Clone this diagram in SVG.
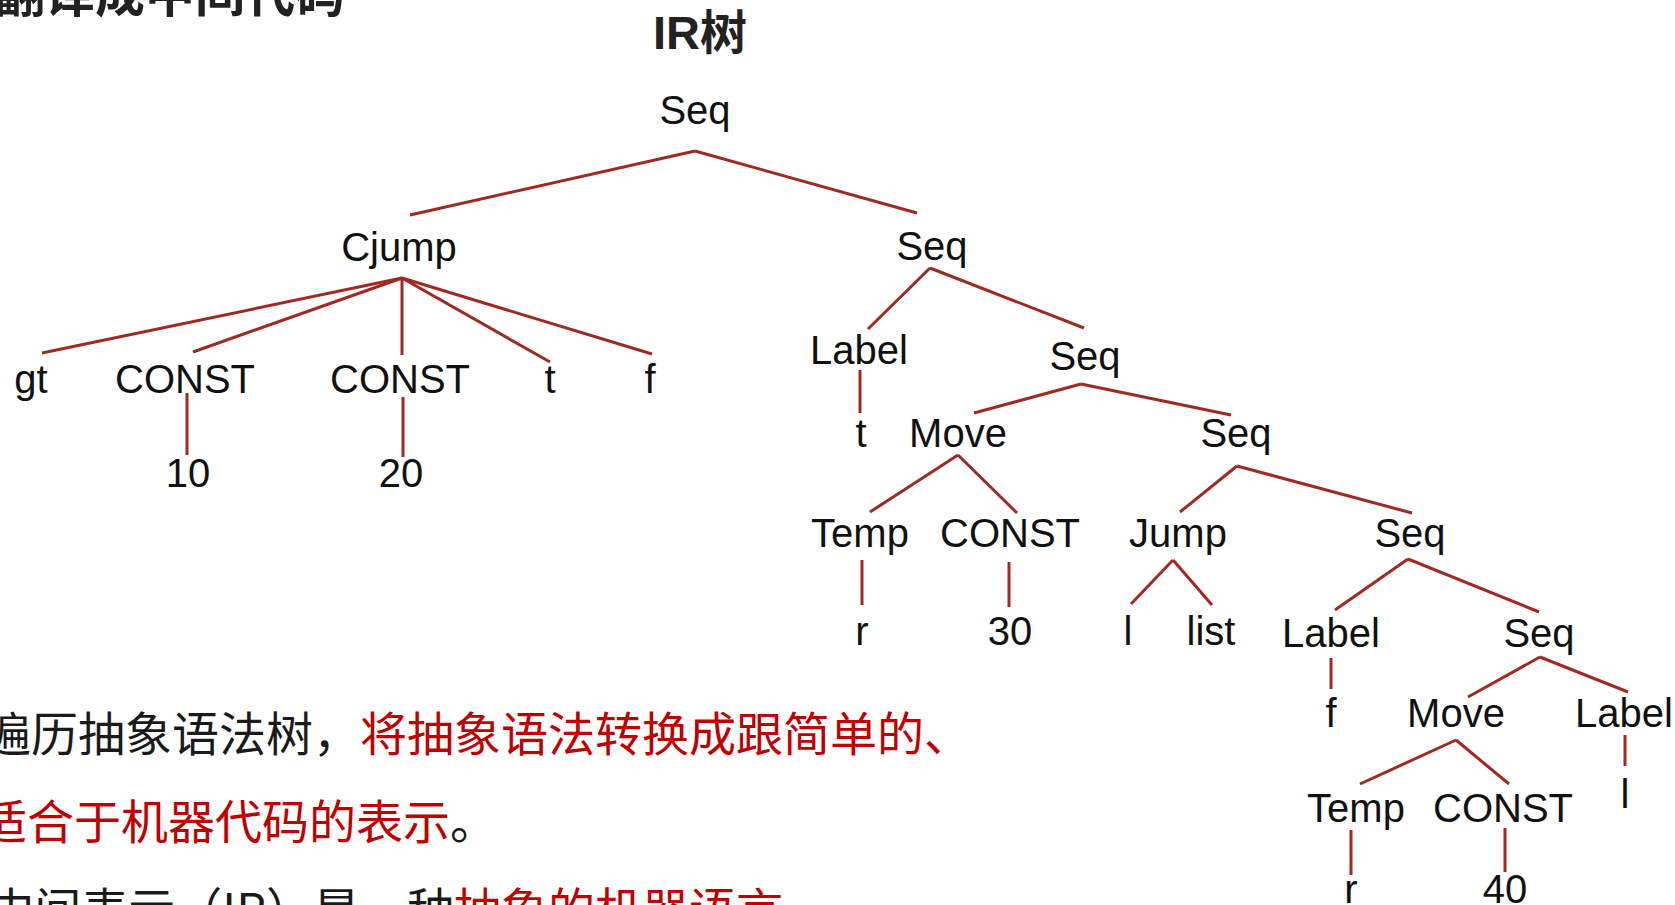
<svg xmlns="http://www.w3.org/2000/svg" width="1675" height="905" viewBox="0 0 1675 905">
<style>
.n{font-family:"Liberation Sans",Arial,sans-serif;font-size:40px;fill:#111;text-anchor:middle}
.e line{stroke:#9e2a22;stroke-width:3;stroke-linecap:butt}
.cj{font-family:"Noto Sans CJK SC",sans-serif;font-size:47px}
.blk{fill:#1a1a1a}
.red{fill:#c00000}
</style>
<rect width="1675" height="905" fill="#fff"/>
<text x="345" y="12" font-family="Noto Sans CJK SC, sans-serif" font-size="50" font-weight="bold" fill="#222" text-anchor="end">翻译成中间代码</text>
<text x="700" y="49" font-family="Liberation Sans, Noto Sans CJK SC, sans-serif" font-size="47" font-weight="bold" fill="#222" text-anchor="middle">IR树</text>
<g id="connectors" class="e">
<line x1="695" y1="151" x2="410" y2="215"/>
<line x1="695" y1="151" x2="917" y2="213"/>
<line x1="402" y1="278" x2="42" y2="353"/>
<line x1="402" y1="278" x2="193" y2="352"/>
<line x1="402" y1="278" x2="402" y2="355"/>
<line x1="402" y1="278" x2="550" y2="362"/>
<line x1="402" y1="278" x2="652" y2="354"/>
<line x1="187" y1="393" x2="187" y2="455"/>
<line x1="403" y1="397" x2="403" y2="457"/>
<line x1="930" y1="268" x2="868" y2="329"/>
<line x1="930" y1="268" x2="1084" y2="328"/>
<line x1="860" y1="370" x2="860" y2="413"/>
<line x1="1081" y1="384" x2="974" y2="413"/>
<line x1="1081" y1="384" x2="1231" y2="415"/>
<line x1="958" y1="455" x2="870" y2="512"/>
<line x1="958" y1="455" x2="1017" y2="513"/>
<line x1="1237" y1="466" x2="1180" y2="512"/>
<line x1="1237" y1="466" x2="1412" y2="513"/>
<line x1="862" y1="560" x2="862" y2="605"/>
<line x1="1009" y1="562" x2="1009" y2="607"/>
<line x1="1173" y1="560" x2="1131" y2="604"/>
<line x1="1173" y1="560" x2="1212" y2="605"/>
<line x1="1408" y1="559" x2="1335" y2="610"/>
<line x1="1408" y1="559" x2="1539" y2="612"/>
<line x1="1331" y1="658" x2="1331" y2="689"/>
<line x1="1540" y1="657" x2="1468" y2="697"/>
<line x1="1540" y1="657" x2="1628" y2="692"/>
<line x1="1456" y1="740" x2="1360" y2="784"/>
<line x1="1456" y1="740" x2="1509" y2="784"/>
<line x1="1625" y1="735" x2="1625" y2="766"/>
<line x1="1351" y1="830" x2="1351" y2="875"/>
<line x1="1505" y1="828" x2="1505" y2="872"/>
</g>
<g id="n-seq0"><text class="n" x="695" y="124">Seq</text></g>
<g id="n-cjump"><text class="n" x="399" y="261">Cjump</text></g>
<g id="n-gt"><text class="n" x="31" y="393">gt</text></g>
<g id="n-const1"><text class="n" x="185" y="393">CONST</text></g>
<g id="n-const2"><text class="n" x="400" y="393">CONST</text></g>
<g id="n-t1"><text class="n" x="550" y="393">t</text></g>
<g id="n-f1"><text class="n" x="650" y="393">f</text></g>
<g id="n-10"><text class="n" x="188" y="487">10</text></g>
<g id="n-20"><text class="n" x="401" y="487">20</text></g>
<g id="n-seq1"><text class="n" x="932" y="260">Seq</text></g>
<g id="n-label1"><text class="n" x="859" y="364">Label</text></g>
<g id="n-seq2"><text class="n" x="1085" y="370">Seq</text></g>
<g id="n-t2"><text class="n" x="861" y="447">t</text></g>
<g id="n-move1"><text class="n" x="958" y="447">Move</text></g>
<g id="n-seq3"><text class="n" x="1236" y="447">Seq</text></g>
<g id="n-temp1"><text class="n" x="860" y="547">Temp</text></g>
<g id="n-const3"><text class="n" x="1010" y="547">CONST</text></g>
<g id="n-jump"><text class="n" x="1178" y="547">Jump</text></g>
<g id="n-seq4"><text class="n" x="1410" y="547">Seq</text></g>
<g id="n-r1"><text class="n" x="862" y="645">r</text></g>
<g id="n-30"><text class="n" x="1010" y="645">30</text></g>
<g id="n-l1"><text class="n" x="1128" y="645">l</text></g>
<g id="n-list"><text class="n" x="1211" y="645">list</text></g>
<g id="n-label2"><text class="n" x="1331" y="647">Label</text></g>
<g id="n-seq5"><text class="n" x="1539" y="647">Seq</text></g>
<g id="n-f2"><text class="n" x="1331" y="727">f</text></g>
<g id="n-move2"><text class="n" x="1456" y="727">Move</text></g>
<g id="n-label3"><text class="n" x="1624" y="727">Label</text></g>
<g id="n-l2"><text class="n" x="1625" y="808">l</text></g>
<g id="n-temp2"><text class="n" x="1356" y="822">Temp</text></g>
<g id="n-const4"><text class="n" x="1503" y="822">CONST</text></g>
<g id="n-r2"><text class="n" x="1351" y="903">r</text></g>
<g id="n-40"><text class="n" x="1505" y="903">40</text></g>
<g id="body-text">
<text class="cj blk" x="360" y="751" text-anchor="end">遍历抽象语法树，</text>
<text class="cj red" x="360" y="751">将抽象语法转换成跟简单的、</text>
<text class="cj red" x="450" y="839" text-anchor="end">适合于机器代码的表示</text>
<text class="cj blk" x="450" y="839">。</text>
<text class="cj blk" x="454" y="927" text-anchor="end">中间表示（IR）是一种</text>
<text class="cj red" x="454" y="927">抽象的机器语言</text>
</g>
</svg>
